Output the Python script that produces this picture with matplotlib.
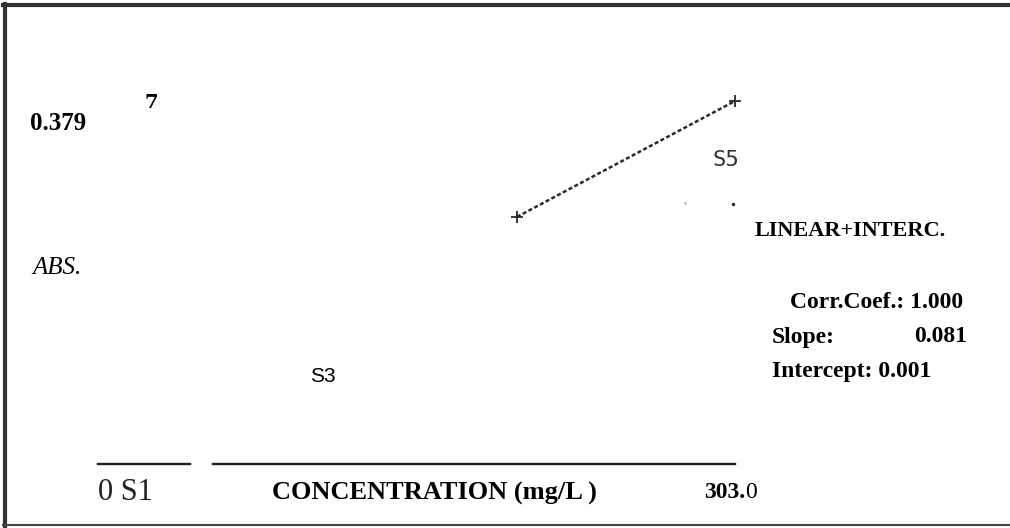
import matplotlib
matplotlib.use("Agg")
import matplotlib.pyplot as plt
from matplotlib.lines import Line2D

# calibration data
conc = [199.3, 303.0]          # mg/L
absorb = [0.258, 0.379]        # ABS.
x_max = 303.0
y_max = 0.379

# stray scan specks near S5
speck_x = [279.2, 302.0]
speck_y = [0.273, 0.271]

W, H = 1010, 528
fig = plt.figure(figsize=(W / 100, H / 100), dpi=100)


def px(x, y):
    # pixel position -> figure fraction
    return x / W, 1 - y / H


# plotting area: x from 0..303 and y from 0..0.379
left, right, bottom, top = 98, 735, 464, 101
ax = fig.add_axes([left / W, 1 - bottom / H, (right - left) / W, (bottom - top) / H])
ax.set_xlim(0, x_max)
ax.set_ylim(0, y_max)
ax.axis("off")

ax.plot(conc, absorb, linestyle=(0, (1.6, 1.0)), lw=1.8, color="#2a2a2a",
        marker="+", markersize=8, mew=1.3, clip_on=False)
ax.plot(speck_x[:1], speck_y[:1], linestyle="none", marker=".", markersize=2,
        color="#bbbbbb", clip_on=False)
ax.plot(speck_x[1:], speck_y[1:], linestyle="none", marker=".", markersize=3,
        color="#333333", clip_on=False)

# broken x axis line
ax.plot([0, 43.8], [0, 0], color="#222222", lw=1.7, clip_on=False)
ax.plot([54.7, x_max], [0, 0], color="#222222", lw=1.7, clip_on=False)

serif = "Liberation Serif"

fig.text(*px(145, 103), "7", family="DejaVu Serif", weight="bold", fontsize=14,
         va="center", ha="left")
fig.text(*px(30, 123), "0.379", family=serif, weight="bold", fontsize=18,
         va="center", ha="left")
fig.text(*px(32, 268), "ABS.", family=serif, style="italic", fontsize=18,
         va="center", ha="left")
fig.text(*px(713, 160), "S5", family="DejaVu Sans Mono", fontsize=16,
         color="#333333", va="center", ha="left")
fig.text(*px(310, 376), "S3", family="Liberation Sans", fontsize=15,
         va="center", ha="left")

fig.text(*px(755, 231), "LINEAR+INTERC.", family=serif, weight="bold", fontsize=16,
         va="center", ha="left")
fig.text(*px(790, 302), "Corr.Coef.: 1.000", family=serif, weight="bold", fontsize=17,
         va="center", ha="left")
fig.text(*px(772, 337), "Slope:", family=serif, weight="bold", fontsize=17,
         va="center", ha="left")
fig.text(*px(967, 337), "0.081", family=serif, weight="bold", fontsize=17,
         va="center", ha="right")
fig.text(*px(772, 372), "Intercept: 0.001", family=serif, weight="bold", fontsize=17,
         va="center", ha="left")

fig.text(*px(98, 493), "0 S1", family=serif, fontsize=22, color="#222222",
         va="center", ha="left")
fig.text(*px(272, 493), "CONCENTRATION (mg/L )", family=serif, weight="bold",
         fontsize=19, va="center", ha="left")
fig.text(*px(704, 493), "303.", family=serif, weight="bold", fontsize=17,
         va="center", ha="left")
fig.text(*px(745, 493), "0", family=serif, fontsize=17, va="center", ha="left")

# frame of the scanned picture (top, left, bottom)
fig.add_artist(Line2D([3 / W, 1], [1 - 5 / H, 1 - 5 / H], color="#333333", lw=3.0))
fig.add_artist(Line2D([5 / W, 5 / W], [1 - 4 / H, 1 - 527 / H], color="#333333", lw=3.0))
fig.add_artist(Line2D([3 / W, 1], [1 - 525 / H, 1 - 525 / H], color="#444444", lw=1.5))

fig.savefig("out.png", dpi=100)
